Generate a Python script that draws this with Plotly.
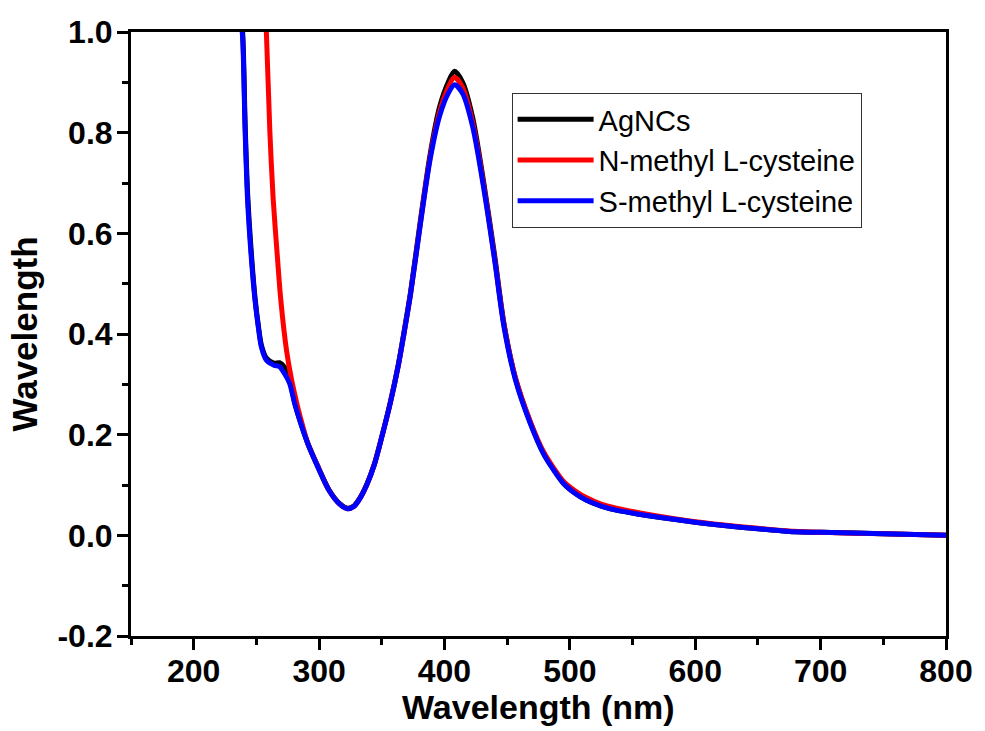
import plotly.graph_objects as go

# ---- data ----
wl_common = [237, 239, 241, 243, 246, 249, 251.5, 254, 258, 264, 268.5, 272.5, 276.5,
             280.5, 284.5, 291, 299, 308, 316, 322.5, 328, 333, 338, 344, 350, 357, 363,
             368, 373, 380.5, 388.5, 396, 403, 408, 414.5, 422.5, 432, 440, 447.5, 456.5,
             468.5, 479, 487, 495, 505, 513, 525, 537, 555, 571, 600, 621, 650, 679, 700,
             750, 800]

agncs = [1.04, 1.0, 0.82, 0.68, 0.56, 0.47, 0.418, 0.378, 0.352, 0.342, 0.343, 0.334, 0.31,
         0.264, 0.23, 0.183, 0.137, 0.09, 0.064, 0.054, 0.059, 0.076, 0.101, 0.141, 0.196,
         0.267, 0.337, 0.408, 0.484, 0.62, 0.756, 0.85, 0.9, 0.922, 0.9, 0.83, 0.69, 0.556,
         0.42, 0.313, 0.224, 0.163, 0.131, 0.103, 0.082, 0.07, 0.058, 0.05, 0.042, 0.036,
         0.026, 0.02, 0.013, 0.007, 0.006, 0.003, 0.0]

s_methyl = [1.04, 0.99, 0.805, 0.665, 0.55, 0.465, 0.414, 0.374, 0.348, 0.338, 0.335, 0.321,
            0.302, 0.262, 0.229, 0.182, 0.136, 0.089, 0.063, 0.053, 0.058, 0.075, 0.1, 0.14,
            0.195, 0.265, 0.335, 0.405, 0.48, 0.613, 0.746, 0.832, 0.878, 0.895, 0.878, 0.812,
            0.679, 0.547, 0.414, 0.31, 0.222, 0.162, 0.13, 0.103, 0.082, 0.07, 0.058, 0.05,
            0.042, 0.036, 0.026, 0.02, 0.013, 0.007, 0.006, 0.003, 0.0]

wl_red = [257, 258, 260.7, 263.3, 267, 269.5, 274, 278, 282, 285, 291, 299, 308, 316, 322.5,
          328, 333, 338, 344, 350, 357, 363, 368, 373, 380.5, 388.5, 396, 403, 408, 414.5,
          422.5, 432, 440, 447.5, 456.5, 468.5, 479, 487, 495, 505, 513, 525, 537, 555, 571,
          600, 621, 650, 679, 700, 750, 800]

n_methyl = [1.04, 0.997, 0.805, 0.672, 0.545, 0.467, 0.368, 0.31, 0.265, 0.235, 0.183, 0.137,
            0.089, 0.063, 0.053, 0.058, 0.075, 0.1, 0.14, 0.195, 0.265, 0.335, 0.405, 0.48,
            0.615, 0.75, 0.84, 0.89, 0.91, 0.89, 0.82, 0.684, 0.55, 0.418, 0.314, 0.226,
            0.166, 0.134, 0.107, 0.087, 0.075, 0.062, 0.054, 0.045, 0.038, 0.027, 0.021,
            0.014, 0.008, 0.006, 0.003, 0.0]

series_names = ["AgNCs", "N-methyl L-cysteine", "S-methyl L-cysteine"]
series_colors = ["#000000", "#ff0000", "#0000ff"]

y_tickvals = [-0.2, 0.0, 0.2, 0.4, 0.6, 0.8, 1.0]
y_ticktext = ["-0.2", "0.0", "0.2", "0.4", "0.6", "0.8", "1.0"]
x_tickvals = [200, 300, 400, 500, 600, 700, 800]
x_title = "Wavelength (nm)"
y_title = "Wavelength"

FONT = "Liberation Sans, Arial, sans-serif"

fig = go.Figure()
for name, xs, ys, col in [
    (series_names[0], wl_common, agncs, series_colors[0]),
    (series_names[1], wl_red, n_methyl, series_colors[1]),
    (series_names[2], wl_common, s_methyl, series_colors[2]),
]:
    fig.add_trace(go.Scatter(x=xs, y=ys, mode="lines", name=name,
                             line=dict(color=col, width=5, shape="spline", smoothing=0.8)))

axis_common = dict(
    showline=True, linewidth=3, linecolor="black", mirror=True,
    ticks="outside", ticklen=11, tickwidth=3, tickcolor="black",
    showgrid=False, zeroline=False,
    tickfont=dict(family=FONT, size=32, color="black", weight="bold"),
)

fig.update_xaxes(
    range=[150, 800], tickvals=x_tickvals, ticklabelstandoff=-6,
    minor=dict(dtick=50, tick0=150, ticks="outside", ticklen=6, tickwidth=3, tickcolor="black"),
    **axis_common,
)
fig.update_yaxes(
    range=[-0.2, 1.0], tickvals=y_tickvals, ticktext=y_ticktext, ticklabelstandoff=-2,
    minor=dict(dtick=0.1, tick0=-0.2, ticks="outside", ticklen=6, tickwidth=3, tickcolor="black"),
    title=dict(text=y_title, font=dict(family=FONT, size=35, color="black", weight="bold"),
               standoff=10),
    **axis_common,
)

fig.add_annotation(
    text=x_title, xref="paper", yref="paper", x=0.5, y=-0.118,
    xanchor="center", yanchor="middle", showarrow=False,
    font=dict(family=FONT, size=34, color="black", weight="bold"),
)

fig.update_layout(
    width=985, height=731,
    margin=dict(l=131, r=34, t=32, b=95),
    paper_bgcolor="white", plot_bgcolor="white",
    showlegend=True,
    legend=dict(
        x=0.467, y=0.899, xanchor="left", yanchor="top",
        bgcolor="white", bordercolor="#333333", borderwidth=1,
        font=dict(family=FONT, size=29, color="black"),
        itemwidth=76, tracegroupgap=0,
    ),
)

fig.write_html("out.html")
